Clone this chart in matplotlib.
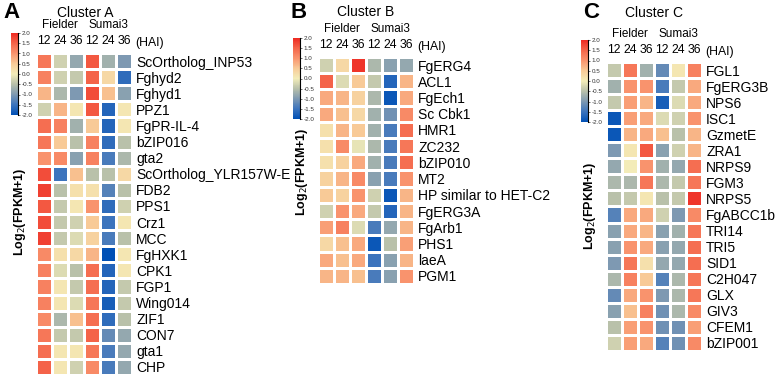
import numpy as np
import matplotlib
matplotlib.use("Agg")
import matplotlib.pyplot as plt
from matplotlib.colors import LinearSegmentedColormap

plt.rcParams['font.family'] = ['Liberation Sans', 'DejaVu Sans']
plt.rcParams['axes.unicode_minus'] = False

hai_labels = ["12", "24", "36", "12", "24", "36"]
cultivars = ["Fielder", "Sumai3"]

genes_a = ["ScOrtholog_INP53", "Fghyd2", "Fghyd1", "PPZ1", "FgPR-IL-4", "bZIP016", "gta2",
           "ScOrtholog_YLR157W-E", "FDB2", "PPS1", "Crz1", "MCC", "FgHXK1", "CPK1", "FGP1",
           "Wing014", "ZIF1", "CON7", "gta1", "CHP"]
vals_a = [
    [1.3, -0.3, -0.8, 1.6, -0.7, -1.0],
    [1.2, -0.3, -0.4, 1.5, 0.3, -1.6],
    [0.7, -0.6, -1.0, 1.7, 0.6, -0.9],
    [-0.3, 0.7, 0.1, 1.6, -1.7, 0.1],
    [1.4, 1.2, -0.7, 0.5, -1.7, 0.1],
    [1.3, 0.5, -0.5, 1.2, -1.6, -0.5],
    [1.0, 1.1, -0.9, 1.2, -1.4, -0.6],
    [1.7, -1.5, 0.6, -0.5, -0.5, 0.3],
    [1.8, -0.5, 0.2, 0.2, -1.3, -0.5],
    [1.6, -0.4, 0.1, 1.0, -1.6, -0.3],
    [1.7, -0.4, -0.3, 0.5, -1.5, 0.1],
    [1.8, -0.4, -0.2, 0.4, -1.4, -0.5],
    [1.1, 0.2, 0.3, 0.7, -2.0, 0.1],
    [1.2, -0.2, -0.5, 1.4, -1.7, 0.1],
    [1.2, 0.1, -0.4, 1.4, -1.7, -0.4],
    [1.2, 0.1, -0.2, 1.3, -1.8, -0.4],
    [1.1, -0.6, 0.6, 1.4, -1.6, -0.5],
    [1.3, -0.4, -0.4, 1.5, -1.2, -0.8],
    [1.4, 0.1, 0.1, 1.3, -1.4, -0.8],
    [1.5, 0.1, -0.3, 1.1, -1.4, -0.8],
]

genes_b = ["FgERG4", "ACL1", "FgEch1", "Sc Cbk1", "HMR1", "ZC232", "bZIP010", "MT2",
           "HP similar to HET-C2", "FgERG3A", "FgArb1", "PHS1", "laeA", "PGM1"]
vals_b = [
    [-0.3, 0.3, 1.9, -0.6, -0.9, -0.8],
    [1.5, -0.2, 0.5, -0.4, -1.7, 0.7],
    [0.8, 0.7, 0.4, -0.6, -1.9, 0.8],
    [0.8, 0.6, 0.3, -0.7, -1.1, 1.1],
    [0.2, 0.7, 0.5, -0.7, -1.4, 1.4],
    [0.2, 1.1, -0.1, -0.6, -1.4, 1.3],
    [0.2, 0.4, 0.8, -0.7, -1.4, 1.4],
    [0.4, 0.7, 1.1, -0.9, -1.4, 1.0],
    [0.5, 0.4, 1.0, -0.3, -1.9, 0.7],
    [-0.3, 1.0, 0.8, -0.4, -1.7, 0.7],
    [0.9, 1.2, -0.2, -1.4, -0.8, 0.7],
    [0.3, 0.6, 0.8, -1.9, -0.5, 0.9],
    [0.8, 0.6, 0.8, -1.5, -0.9, 0.7],
    [0.7, 0.7, 0.6, -1.4, -0.9, 1.0],
]

genes_c = ["FGL1", "FgERG3B", "NPS6", "ISC1", "GzmetE", "ZRA1", "NRPS9", "FGM3", "NRPS5",
           "FgABCC1b", "TRI14", "TRI5", "SID1", "C2H047", "GLX", "GIV3", "CFEM1", "bZIP001"]
vals_c = [
    [-0.4, 1.3, -0.7, -1.2, 0.1, 1.2],
    [-0.7, 1.0, 1.0, -1.4, -0.4, 0.8],
    [-0.4, 0.9, 0.7, -1.8, -0.2, 0.8],
    [-1.9, 0.9, 0.8, -0.2, -0.3, 1.0],
    [-1.9, 0.7, 0.8, 0.6, -0.5, 0.7],
    [-1.0, 0.1, 1.6, -0.9, -0.3, 0.7],
    [-0.8, 0.0, 1.0, -0.7, -0.8, 1.4],
    [-0.6, -0.6, 1.3, -0.6, -0.4, 1.3],
    [-0.5, -0.4, 0.1, -0.5, -0.4, 1.9],
    [-1.3, 0.8, 0.8, -0.3, -1.0, 1.1],
    [-0.9, 0.8, 0.7, -0.9, -0.7, 1.3],
    [-0.9, 1.0, 0.8, -0.9, -0.8, 1.4],
    [-1.0, 1.3, 0.2, -0.8, -0.8, 1.4],
    [-0.6, 1.2, 0.5, -1.3, -0.6, 1.3],
    [-1.2, 0.8, 1.0, -1.0, -0.6, 1.3],
    [-0.9, 0.6, 1.2, -1.1, -0.6, 1.1],
    [-0.5, 0.9, 1.0, -1.1, -1.1, 0.9],
    [-0.3, 0.9, 0.8, -1.3, -1.1, 1.1],
]

W, H = 775, 378
fig = plt.figure(figsize=(W / 100, H / 100), dpi=100)

cmap = LinearSegmentedColormap.from_list("c", [
    (0.0, "#0050B5"), (0.125, "#3C74BD"), (0.25, "#7E99B2"), (0.375, "#B8C0AA"),
    (0.5, "#F3EDB9"), (0.625, "#F8CB98"), (0.75, "#F9946E"), (0.875, "#F4654A"),
    (1.0, "#EE2A22")])


def rect(x0, y0, x1, y1):
    return [x0 / W, 1 - y1 / H, (x1 - x0) / W, (y1 - y0) / H]


def panel(letter, title, genes, vals, hm_box, cb_box, title_xy, letter_xy, ylab_xy):
    ax = fig.add_axes(rect(*hm_box))
    data = np.array(vals)
    m = ax.pcolormesh(data, cmap=cmap, vmin=-2, vmax=2, edgecolors="white", linewidth=1.0)
    ax.set_xlim(0, 6)
    ax.set_ylim(len(genes), 0)
    for s in ax.spines.values():
        s.set_visible(False)
    ax.xaxis.tick_top()
    ax.set_xticks(np.arange(6) + 0.5)
    ax.set_xticklabels(hai_labels, fontsize=8.8)
    ax.tick_params(axis="x", length=0, pad=4)
    ax.yaxis.tick_right()
    ax.set_yticks(np.arange(len(genes)) + 0.5)
    ax.set_yticklabels(genes, fontsize=10)
    ax.tick_params(axis="y", length=0, pad=3)
    ytop = hm_box[1]
    ax.annotate("(HAI)", xy=(6.2, H - (ytop - 10)), xycoords=("data", "figure pixels"),
                ha="left", va="center", fontsize=8.8)
    ax.annotate(cultivars[0], xy=(1.5, H - (ytop - 28)), xycoords=("data", "figure pixels"),
                ha="center", va="center", fontsize=8.5)
    ax.annotate(cultivars[1], xy=(4.5, H - (ytop - 28)), xycoords=("data", "figure pixels"),
                ha="center", va="center", fontsize=8.5)
    fig.text(title_xy[0] / W, 1 - title_xy[1] / H, title, ha="center", va="center", fontsize=10)
    fig.text(letter_xy[0] / W, 1 - letter_xy[1] / H, letter, ha="left", va="center",
             fontsize=16, fontweight="bold")
    fig.text(ylab_xy[0] / W, 1 - ylab_xy[1] / H, r"Log$_2$(FPKM+1)", rotation=90,
             ha="center", va="center", fontsize=9, fontweight="bold")
    cax = fig.add_axes(rect(*cb_box))
    cb = fig.colorbar(m, cax=cax, ticks=np.arange(-2, 2.01, 0.5))
    cb.ax.set_yticklabels(["%.1f" % t for t in np.arange(-2, 2.01, 0.5)])
    cb.ax.tick_params(labelsize=4.5, length=1.5, width=0.5, pad=1, colors="#333333")
    cb.outline.set_visible(False)
    cax.plot([1, 1], [0, 1], transform=cax.transAxes, color="black", lw=0.8, clip_on=False)


panel("A", "Cluster A", genes_a, vals_a, (36, 53, 132, 375), (11, 33, 18, 115),
      (85, 13), (3, 12), (20, 212))
panel("B", "Cluster B", genes_b, vals_b, (318, 57, 414, 284), (293, 38, 300, 119),
      (366, 12), (290, 12), (302, 172))
panel("C", "Cluster C", genes_c, vals_c, (606, 62, 702, 351), (581, 40, 588, 122),
      (654, 13), (583, 13), (590, 206))

fig.savefig("out.png", dpi=100)
